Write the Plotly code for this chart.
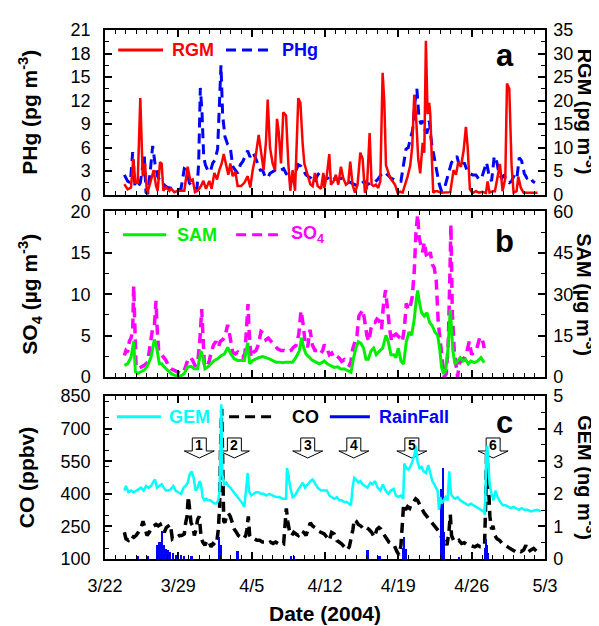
import plotly.graph_objects as go

# ---------------- data (x = days after 2004-03-22 00:00) ----------------
date_tickvals = [0, 7, 14, 21, 28, 35, 42]
date_ticktext = ["3/22", "3/29", "4/5", "4/12", "4/19", "4/26", "5/3"]

rgm_day = [1.85, 2.16, 2.48, 2.70, 2.90, 3.12, 3.37, 3.60, 3.82, 4.01, 4.23, 4.45, 4.65, 4.87, 5.03,
           5.25, 5.41, 5.57, 5.82, 6.14, 6.30, 6.62, 6.94, 7.25, 7.57, 7.89, 8.15, 8.37, 8.59, 8.84,
           9.16, 9.39, 9.64, 9.96, 10.18, 10.44, 10.69, 10.91, 11.14, 11.33, 11.55, 11.77, 11.96, 12.19, 12.44,
           12.66, 12.98, 13.30, 13.62, 13.87, 14.10, 14.41, 14.67, 14.89, 15.14, 15.37, 15.53, 15.75, 16.00, 16.23,
           16.42, 16.58, 16.80, 17.02, 17.28, 17.50, 17.69, 17.91, 18.14, 18.45, 18.65, 18.87, 19.03, 19.34, 19.60,
           19.82, 20.04, 20.30, 20.62, 20.84,
           20.93, 21.18, 21.41, 21.57, 21.82, 22.04, 22.27, 22.52, 22.74, 23.00, 23.22, 23.41, 23.63, 23.86, 24.11,
           24.37, 24.59, 24.81, 25.00, 25.26, 25.45, 25.64, 25.86, 26.08, 26.28, 26.50, 26.66, 26.82, 27.04, 27.23,
           27.45, 27.68, 27.93, 28.18, 28.41, 28.63, 28.88, 29.14, 29.33, 29.52, 29.68, 29.90, 30.09, 30.32, 30.48,
           30.63, 30.79, 30.95, 31.05, 31.17, 31.33, 31.52, 31.75, 32.07, 32.38, 32.70, 32.96, 33.27, 33.50, 33.72,
           33.97, 34.23, 34.45, 34.61, 34.83, 35.09, 35.41, 35.72, 36.04, 36.36, 36.52, 36.71, 37.00, 37.22, 37.47,
           37.70, 37.95, 38.21, 38.37, 38.59, 38.81, 39.00, 39.29, 39.45, 39.70, 39.96, 40.34, 40.66, 41.04, 41.29]
rgm_val = [2.2, 1.1, 1.5, 7.6, 2.5, 2.5, 20.5, 3.9, 6.6, 0.1, 1.8, 3.5, 5.2, 1.8, 0.8,
           6.9, 6.6, 0.8, 1.5, 0.8, 1.3, 0.5, 0.8, 0.8, 0.8, 5.9, 2.9, 3.2, 0.5, 0.8,
           1.8, 2.9, 1.2, 2.9, 1.2, 4.6, 3.2, 5.2, 6.6, 8.6, 6.6, 4.2, 6.6, 3.9, 4.9,
           1.8, 1.8, 2.5, 3.9, 1.5, 5.2, 8.6, 12.7, 9.3, 5.2, 11.4, 20.2, 10.0, 6.6, 5.2,
           16.1, 13.4, 6.6, 17.5, 16.8, 6.6, 0.8, 5.2, 0.8, 20.5, 19.5, 10.7, 6.6, 4.2, 2.2,
           1.8, 4.6, 1.8, 1.2, 4.6,
           1.4, 4.2, 8.6, 2.1, 2.8, 4.2, 2.1, 5.9, 3.5, 2.1, 2.5, 7.0, 2.1, 0.4, 2.1,
           8.9, 7.6, 0.4, 1.4, 13.1, 2.1, 1.8, 2.1, 1.4, 2.8, 25.9, 19.8, 6.2, 4.5, 3.5,
           2.8, 2.1, 0.4, 0.6, 0.4, 1.8, 3.8, 6.2, 10.3, 21.2, 17.1, 7.6, 4.5, 11.0, 8.9,
           32.7, 17.1, 19.5, 17.1, 9.3, 0.4, 0.7, 0.7, 0.4, 0.4, 0.4, 0.5, 5.2, 4.2, 6.9,
           5.9, 9.3, 14.4, 10.3, 1.1, 0.3, 0.7, 0.4, 0.6, 0.3, 2.8, 0.4, 0.7, 0.7, 3.5,
           6.5, 0.7, 3.5, 23.6, 22.5, 6.2, 0.4, 0.7, 3.8, 1.4, 0.4, 0.4, 0.4, 0.5, 0.4]

phg_day = [1.85, 2.16, 2.42, 2.64, 2.86, 3.12, 3.37, 3.60, 3.75, 3.91, 4.07, 4.30, 4.55, 4.77, 5.03,
           5.28, 5.50, 5.73, 5.98, 6.30, 6.62, 6.94, 7.25, 7.57, 7.83, 8.05, 8.27, 8.53, 8.78, 8.94,
           9.10, 9.26, 9.42, 9.58, 9.80, 10.05, 10.28, 10.50, 10.75, 10.91, 11.07, 11.23, 11.45, 11.71, 11.96,
           12.19, 12.41, 12.66, 12.92, 13.14, 13.36, 13.62, 13.84, 14.10, 14.32, 14.57, 14.83, 15.05, 15.27, 15.53,
           15.75, 16.00, 16.23, 16.48, 16.80, 17.05, 17.28, 17.50, 17.75, 18.01, 18.23, 18.45, 18.71, 18.96, 19.19,
           19.41, 19.66, 19.98, 20.30, 20.55, 20.84,
           20.93, 21.25, 21.57, 21.88, 22.20, 22.52, 22.84, 23.16, 23.48, 23.79, 24.11, 24.43, 24.75, 25.07, 25.38,
           25.70, 26.02, 26.34, 26.66, 26.98, 27.29, 27.61, 27.93, 28.25, 28.50, 28.73, 28.95, 29.14, 29.36, 29.58,
           29.77, 29.97, 30.16, 30.35, 30.54, 30.73, 30.95, 31.17, 31.43, 31.68, 31.91, 32.13, 32.38, 32.64, 32.86,
           33.08, 33.34, 33.59, 33.82, 34.04, 34.29, 34.55, 34.80, 35.09, 35.41, 35.72, 35.95, 36.20, 36.42, 36.65,
           36.90, 37.16, 37.41, 37.63, 37.89, 38.11, 38.37, 38.59, 38.81, 39.07, 39.32, 39.54, 39.77, 40.02, 40.27,
           40.56, 40.82, 41.04]
phg_val = [2.5, 1.7, 1.5, 5.4, 1.1, 0.9, 1.5, 4.0, 5.0, 0.3, 0.0, 2.7, 6.2, 4.0, 2.3,
           1.7, 1.5, 1.1, 0.9, 0.8, 0.7, 0.6, 0.7, 3.3, 3.1, 1.5, 1.1, 1.1, 0.7, 4.0,
           13.6, 10.5, 4.8, 3.8, 3.1, 2.9, 4.0, 4.4, 5.8, 12.1, 16.5, 10.1, 7.4, 6.4, 6.0,
           3.6, 3.1, 2.7, 3.8, 4.2, 4.8, 5.6, 4.8, 5.4, 4.8, 4.0, 3.1, 3.1, 2.3, 2.1,
           2.7, 2.9, 3.1, 3.3, 3.1, 3.3, 2.7, 2.3, 1.5, 2.3, 3.1, 3.8, 3.6, 3.1, 2.5,
           2.3, 2.1, 1.5, 2.5, 2.9, 2.5,
           1.9, 2.1, 1.7, 2.0, 1.9, 2.1, 1.9, 1.7, 1.5, 1.3, 1.1, 1.3, 1.7, 1.3, 1.5,
           1.5, 1.9, 2.5, 2.9, 2.5, 2.1, 1.9, 1.7, 1.7, 3.7, 5.8, 6.0, 7.0, 8.2, 11.7,
           13.5, 9.8, 9.0, 9.4, 8.2, 7.8, 9.4, 6.6, 4.5, 2.9, 1.3, 0.4, 0.7, 2.1, 2.9,
           4.1, 4.5, 4.9, 3.7, 3.5, 4.1, 3.1, 2.7, 2.5, 2.5, 1.9, 2.1, 3.3, 4.1, 2.5,
           1.7, 4.9, 4.1, 2.5, 2.1, 2.5, 1.7, 1.5, 1.7, 2.5, 2.1, 4.7, 4.3, 2.7, 2.1,
           2.3, 1.7, 1.5]

so4_day = [1.85, 2.00, 2.16, 2.32, 2.48, 2.64, 2.74, 2.83, 2.96, 3.12, 3.44, 3.75, 4.07, 4.33, 4.55,
           4.71, 4.87, 4.96, 5.12, 5.35, 5.60, 5.82, 6.05, 6.30, 6.62, 6.94, 7.25, 7.57, 7.89, 8.15,
           8.37, 8.59, 8.84, 9.07, 9.23, 9.35, 9.48, 9.74, 9.96, 10.18, 10.37, 10.59, 10.82, 11.01, 11.23,
           11.45, 11.71, 11.93, 12.19, 12.44, 12.66, 12.92, 13.14, 13.36, 13.55, 13.65, 13.74, 13.94, 14.19, 14.41,
           14.64, 14.89, 15.11, 15.37, 15.59, 15.84, 16.16, 16.48, 16.80, 17.12, 17.44, 17.75, 17.98, 18.23, 18.49,
           18.71, 18.90, 19.09, 19.34, 19.57, 19.79, 20.04, 20.30, 20.55, 20.78,
           20.93, 21.18, 21.41, 21.63, 21.88, 22.14, 22.36, 22.58, 22.84, 23.09, 23.32, 23.48, 23.63, 23.86, 24.05,
           24.24, 24.43, 24.62, 24.81, 25.00, 25.19, 25.38, 25.58, 25.77, 25.96, 26.18, 26.40, 26.59, 26.78, 26.98,
           27.17, 27.36, 27.55, 27.77, 27.99, 28.18, 28.38, 28.57, 28.76, 28.95, 29.14, 29.33, 29.52, 29.68, 29.84,
           30.00, 30.16, 30.32, 30.48, 30.67, 30.86, 31.05, 31.24, 31.43, 31.62, 31.81, 32.00, 32.19, 32.38, 32.58,
           32.77, 32.93, 33.02, 33.15, 33.34, 33.53, 33.66, 33.82, 34.04, 34.29, 34.55, 34.77, 35.00, 35.25, 35.50,
           35.76, 35.98, 36.20]
so4_val = [2.6, 3.2, 3.0, 4.3, 4.7, 5.5, 11.0, 5.5, 1.4, 1.0, 1.2, 1.4, 1.8, 4.3, 5.9,
           6.1, 9.2, 6.3, 3.2, 2.8, 2.4, 2.0, 1.4, 1.0, 0.8, 0.6, 0.4, 0.8, 2.0, 2.4,
           2.0, 1.4, 1.6, 4.7, 8.2, 5.1, 1.6, 1.2, 2.0, 3.2, 3.9, 4.3, 3.6, 4.3, 4.5,
           4.9, 6.3, 4.9, 3.0, 2.8, 3.0, 2.6, 2.4, 2.8, 6.7, 8.8, 5.9, 2.4, 3.0, 3.2,
           3.9, 5.5, 5.3, 4.5, 4.7, 4.3, 3.8, 3.4, 3.2, 3.2, 3.0, 3.2, 3.6, 3.8, 5.1,
           8.0, 6.5, 4.3, 3.6, 5.7, 3.9, 3.2, 3.2, 2.8, 3.2,
           3.9, 3.5, 2.7, 2.9, 2.3, 2.5, 2.3, 1.9, 2.1, 1.6, 1.4, 1.9, 3.3, 4.3, 5.0,
           7.4, 7.8, 8.1, 6.6, 5.0, 4.3, 5.8, 6.6, 6.6, 7.0, 6.8, 5.8, 8.9, 10.5, 7.8,
           5.8, 4.3, 5.0, 5.2, 5.0, 4.7, 4.3, 5.8, 8.9, 8.1, 8.5, 9.7, 12.8, 17.4, 19.6,
           16.7, 15.9, 15.1, 16.3, 14.7, 14.3, 15.1, 13.6, 13.2, 11.6, 6.6, 4.3, 1.6, 0.0, 0.4,
           4.3, 12.8, 18.4, 7.8, 3.1, 1.2, 0.0, 1.6, 2.1, 2.3, 3.1, 4.3, 2.7, 3.1, 3.5,
           4.7, 4.8, 3.5]

sam_day = [1.85, 2.16, 2.48, 2.74, 2.90, 3.12, 3.44, 3.75, 4.07, 4.39, 4.71, 4.93, 5.19, 5.41, 5.66,
           5.98, 6.30, 6.62, 6.94, 7.25, 7.57, 7.89, 8.21, 8.53, 8.84, 9.16, 9.35, 9.54, 9.80, 10.12,
           10.44, 10.75, 11.07, 11.39, 11.71, 12.03, 12.34, 12.66, 12.98, 13.30, 13.62, 13.81, 14.10, 14.41, 14.73,
           15.05, 15.37, 15.69, 16.00, 16.32, 16.64, 16.96, 17.28, 17.59, 17.91, 18.23, 18.55, 18.77, 18.96, 19.19,
           19.51, 19.82, 20.14, 20.46, 20.78,
           20.93, 21.25, 21.57, 21.88, 22.20, 22.52, 22.84, 23.16, 23.48, 23.73, 23.95, 24.18, 24.43, 24.68, 24.91,
           25.13, 25.38, 25.64, 25.89, 26.18, 26.50, 26.82, 27.04, 27.29, 27.55, 27.77, 27.99, 28.25, 28.50, 28.76,
           29.01, 29.27, 29.52, 29.71, 29.84, 30.03, 30.22, 30.48, 30.73, 30.98, 31.24, 31.49, 31.75, 31.94, 32.13,
           32.32, 32.51, 32.70, 32.96, 33.21, 33.40, 33.66, 33.91, 34.17, 34.42, 34.67, 34.93, 35.25, 35.57, 35.88,
           36.20]
sam_val = [4.2, 4.8, 7.1, 13.0, 1.9, 1.3, 1.9, 2.5, 4.2, 7.1, 13.6, 10.7, 4.8, 4.8, 3.6,
           2.5, 1.3, 0.7, 0.4, 0.4, 1.3, 3.6, 3.9, 3.0, 3.0, 9.5, 7.1, 3.0, 3.6, 4.8,
           6.0, 6.6, 7.7, 8.3, 10.7, 8.3, 6.6, 6.0, 6.0, 6.0, 12.4, 4.8, 6.0, 6.6, 7.1,
           7.4, 7.1, 6.6, 6.0, 5.4, 5.4, 5.2, 5.4, 5.4, 5.4, 7.1, 9.5, 14.2, 10.7, 8.3,
           7.1, 6.0, 5.4, 4.8, 5.4,
           5.8, 4.7, 4.1, 3.5, 3.7, 2.9, 2.9, 2.3, 1.7, 7.0, 10.5, 12.8, 12.2, 10.5, 6.4,
           6.4, 9.3, 10.5, 8.1, 9.3, 10.5, 15.1, 12.8, 8.1, 8.1, 7.0, 10.5, 5.8, 4.7, 12.8,
           16.3, 15.1, 20.9, 27.9, 31.4, 26.7, 23.3, 22.1, 23.3, 19.8, 18.6, 16.3, 15.1, 10.5, 3.5,
           1.2, 2.3, 8.1, 24.4, 9.3, 4.7, 5.8, 7.0, 5.8, 6.4, 4.7, 5.8, 5.2, 5.8, 7.0,
           5.2]

gem_day = [1.85, 2.00, 2.23, 2.48, 2.74, 2.96, 3.18, 3.44, 3.69, 3.91, 4.14, 4.39, 4.65, 4.77, 4.96,
           5.19, 5.41, 5.60, 5.82, 6.05, 6.30, 6.52, 6.75, 7.00, 7.25, 7.51, 7.70, 7.89, 8.08, 8.27,
           8.46, 8.65, 8.84, 9.04, 9.16, 9.32, 9.48, 9.67, 9.86, 10.05, 10.24, 10.44, 10.63, 10.82, 10.94,
           11.04, 11.10, 11.20, 11.39, 11.58, 11.77, 11.96, 12.19, 12.41, 12.66, 12.92, 13.14, 13.30, 13.46, 13.62,
           13.74, 13.94, 14.19, 14.41, 14.64, 14.89, 15.14, 15.40, 15.69, 16.00, 16.32, 16.64, 16.96, 17.28, 17.37,
           17.50, 17.69, 17.91, 18.14, 18.39, 18.65, 18.87, 19.09, 19.34, 19.60, 19.82, 20.04, 20.30, 20.62,
           20.93, 21.18, 21.41, 21.63, 21.88, 22.14, 22.36, 22.58, 22.84, 23.09, 23.32, 23.48, 23.63, 23.79, 23.98,
           24.18, 24.37, 24.59, 24.81, 25.07, 25.32, 25.54, 25.77, 26.02, 26.28, 26.53, 26.78, 27.04, 27.29, 27.55,
           27.77, 27.99, 28.25, 28.47, 28.57, 28.76, 28.95, 29.14, 29.33, 29.52, 29.68, 29.84, 30.03, 30.22, 30.41,
           30.63, 30.86, 31.05, 31.24, 31.43, 31.62, 31.75, 31.88, 32.00, 32.13, 32.32, 32.51, 32.70, 32.86, 33.02,
           33.21, 33.43, 33.66, 33.91, 34.17, 34.42, 34.67, 34.93, 35.18, 35.44, 35.69, 35.95, 36.14, 36.27, 36.39,
           36.49, 36.58, 36.71, 36.90, 37.09, 37.28, 37.47, 37.73, 37.98, 38.24, 38.49, 38.75, 39.00, 39.26, 39.51,
           39.77, 40.02, 40.34, 40.66, 40.97, 41.29, 41.60]
gem_val = [2.10, 2.24, 2.05, 2.10, 2.05, 2.10, 2.15, 2.19, 2.10, 2.24, 2.19, 2.24, 2.39, 2.44, 2.19,
           2.24, 2.29, 2.19, 2.10, 2.10, 2.15, 2.24, 2.10, 2.05, 2.00, 2.19, 2.24, 2.34, 2.59, 2.69,
           2.49, 2.10, 2.19, 2.39, 2.29, 1.90, 1.80, 1.85, 1.80, 1.80, 1.75, 1.70, 1.70, 1.80, 2.10,
           3.87, 4.75, 2.59, 2.29, 2.34, 2.24, 2.19, 2.10, 2.00, 1.90, 1.80, 1.70, 1.60, 2.10, 2.64,
           2.10, 1.95, 2.00, 2.05, 2.05, 2.00, 2.00, 1.95, 2.00, 1.95, 1.90, 1.90, 1.85, 1.85, 2.79,
           2.59, 2.19, 1.90, 1.95, 2.10, 2.24, 2.34, 2.19, 2.29, 2.39, 2.44, 2.34, 2.19, 2.10,
           2.10, 2.10, 1.95, 1.90, 1.85, 1.90, 1.80, 1.80, 1.75, 1.75, 1.70, 1.65, 2.19, 2.49, 2.44,
           2.34, 2.39, 2.29, 2.24, 2.19, 2.34, 2.29, 2.39, 2.19, 2.10, 2.29, 2.10, 2.00, 2.10, 2.15,
           1.95, 1.90, 1.95, 1.85, 2.93, 2.79, 2.74, 2.83, 2.98, 3.18, 3.47, 2.98, 2.79, 2.83, 2.69,
           2.64, 2.88, 2.59, 2.39, 2.29, 2.19, 2.10, 1.51, 1.90, 1.70, 1.80, 1.90, 1.80, 2.69, 2.00,
           1.90, 1.85, 1.90, 1.80, 1.75, 1.70, 1.65, 1.70, 1.65, 1.60, 1.56, 1.51, 1.46, 1.36, 3.18,
           3.47, 2.79, 2.29, 2.00, 1.80, 2.10, 1.90, 1.75, 1.65, 1.65, 1.60, 1.56, 1.60, 1.56, 1.51,
           1.56, 1.51, 1.51, 1.46, 1.49, 1.51, 1.46]

co_day = [1.85, 2.00, 2.23, 2.48, 2.74, 2.96, 3.18, 3.44, 3.63, 3.82, 4.01, 4.23, 4.45, 4.65, 4.87,
          5.09, 5.28, 5.50, 5.66, 5.85, 6.05, 6.24, 6.43, 6.62, 6.87, 7.10, 7.32, 7.57, 7.70, 7.83,
          7.95, 8.08, 8.21, 8.37, 8.53, 8.69, 8.84, 9.00, 9.16, 9.32, 9.54, 9.74, 9.93, 10.12, 10.31,
          10.50, 10.69, 10.82, 10.94, 11.04, 11.14, 11.23, 11.33, 11.45, 11.58, 11.77, 11.96, 12.15, 12.34, 12.54,
          12.73, 12.98, 13.24, 13.43, 13.55, 13.68, 13.81, 14.00, 14.25, 14.51, 14.76, 15.02, 15.27, 15.53, 15.78,
          16.04, 16.29, 16.54, 16.80, 17.05, 17.21, 17.31, 17.44, 17.63, 17.82, 18.01, 18.23, 18.45, 18.71, 18.96,
          19.19, 19.41, 19.60, 19.82, 20.04, 20.30, 20.62,
          20.93, 21.18, 21.41, 21.63, 21.88, 22.14, 22.36, 22.58, 22.84, 23.09, 23.32, 23.54, 23.67, 23.79, 23.98,
          24.18, 24.43, 24.68, 24.94, 25.19, 25.45, 25.70, 25.96, 26.15, 26.34, 26.59, 26.85, 27.10, 27.36, 27.61,
          27.87, 28.06, 28.25, 28.38, 28.50, 28.69, 28.88, 29.08, 29.27, 29.46, 29.65, 29.84, 30.03, 30.22, 30.48,
          30.73, 30.98, 31.24, 31.49, 31.75, 31.94, 32.07, 32.26, 32.45, 32.64, 32.83, 32.96, 33.08, 33.27, 33.53,
          33.78, 34.04, 34.29, 34.55, 34.80, 35.06, 35.31, 35.57, 35.82, 36.07, 36.23, 36.33, 36.42, 36.52, 36.62,
          36.74, 36.90, 37.03, 37.22, 37.41, 37.66, 37.92, 38.17, 38.43, 38.68, 38.94, 39.19, 39.45, 39.70, 39.96,
          40.18, 40.40, 40.66, 40.91, 41.17]
co_val = [223, 193, 186, 208, 200, 208, 223, 245, 274, 237, 208, 223, 245, 252, 259,
          252, 259, 237, 223, 245, 252, 259, 193, 200, 200, 208, 208, 215, 267, 296,
          388, 326, 267, 252, 208, 237, 282, 296, 208, 178, 163, 186, 178, 156, 171,
          163, 186, 237, 341, 636, 791, 562, 274, 267, 296, 311, 296, 267, 237, 223,
          208, 200, 193, 208, 237, 296, 208, 193, 193, 186, 186, 178, 178, 171, 178,
          171, 178, 171, 178, 171, 296, 333, 274, 223, 208, 223, 215, 208, 230, 223,
          208, 237, 267, 252, 245, 230, 223,
          215, 200, 185, 222, 215, 185, 178, 170, 156, 141, 156, 205, 237, 282, 274,
          259, 252, 237, 245, 237, 223, 200, 237, 245, 237, 215, 193, 178, 171, 163,
          134, 119, 163, 296, 348, 326, 341, 333, 355, 363, 377, 370, 348, 333, 311,
          296, 282, 267, 252, 237, 223, 208, 178, 193, 163, 223, 304, 208, 186, 178,
          186, 171, 175, 166, 163, 161, 156, 163, 156, 156, 163, 341, 577, 532, 414,
          296, 237, 252, 208, 193, 186, 171, 163, 156, 149, 141, 134, 141, 134, 141,
          163, 134, 141, 149, 137]

rain_day = [3.12, 4.07, 4.96, 5.19, 5.41, 5.60, 5.76, 5.98, 6.20, 6.46, 6.78, 7.25, 7.57, 8.27,
            10.91, 11.01, 12.66, 17.76, 18.01, 25.07, 26.20, 28.45, 28.57, 28.70,
            32.07, 32.13, 32.26, 32.38, 33.82, 36.30, 36.36, 36.49, 36.58]
rain_val = [0.08, 0.08, 0.42, 0.52, 0.85, 0.42, 0.32, 0.27, 0.22, 0.18, 0.13, 0.13, 0.08, 0.08,
            0.67, 0.42, 0.23, 0.08, 0.08, 0.28, 0.10, 0.35, 0.67, 0.30,
            0.75, 2.15, 2.78, 0.82, 0.03, 0.35, 0.62, 0.42, 0.18]

event_day = [9.0, 12.35, 19.35, 23.75, 29.29, 37.05]
event_label = ["1", "2", "3", "4", "5", "6"]
event_co_level = 565

# ---------------- styles ----------------
FONT = "Liberation Sans, Arial, sans-serif"
RED, BLUE, GREEN, MAGENTA, CYAN, BLACK = "#ff0000", "#0000ff", "#00ee00", "#ff00ff", "#00ffff", "#000000"
DASH = "10px,6px"

fig = go.Figure()
fig.add_trace(go.Scatter(x=phg_day, y=phg_val, mode="lines", name="PHg", xaxis="x", yaxis="y",
                         line=dict(color=BLUE, width=3, dash=DASH)))
fig.add_trace(go.Scatter(x=rgm_day, y=rgm_val, mode="lines", name="RGM", xaxis="x", yaxis="y2",
                         line=dict(color=RED, width=2.5)))
fig.add_trace(go.Scatter(x=so4_day, y=so4_val, mode="lines", name="SO4", xaxis="x2", yaxis="y3",
                         line=dict(color=MAGENTA, width=3.5, dash=DASH)))
fig.add_trace(go.Scatter(x=sam_day, y=sam_val, mode="lines", name="SAM", xaxis="x2", yaxis="y4",
                         line=dict(color=GREEN, width=3)))
fig.add_trace(go.Scatter(x=co_day, y=co_val, mode="lines", name="CO", xaxis="x3", yaxis="y5",
                         line=dict(color=BLACK, width=3.5, dash=DASH)))
fig.add_trace(go.Scatter(x=gem_day, y=gem_val, mode="lines", name="GEM", xaxis="x3", yaxis="y6",
                         line=dict(color=CYAN, width=2.5)))
fig.add_trace(go.Bar(x=rain_day, y=rain_val, name="RainFall", xaxis="x3", yaxis="y6",
                     width=0.22, marker=dict(color=BLUE, line=dict(width=0))))

tickfont = dict(family=FONT, size=18, color="black")
common = dict(showline=True, linewidth=1.5, linecolor="black", ticks="inside", tickwidth=1.5,
              tickcolor="black", showgrid=False, zeroline=False, tickfont=tickfont)

def xax(anchor, labels):
    d = dict(common, anchor=anchor, domain=[0, 1], range=[0, 42], tickmode="array",
             tickvals=date_tickvals, ticktext=date_ticktext, ticklen=7, mirror="ticks",
             showticklabels=labels, ticklabelstandoff=10,
             minor=dict(dtick=1, tick0=0, ticks="inside", ticklen=4, tickwidth=1.2, tickcolor="black"))
    return d

def yax_left(domain, rng, dtick, title, standoff):
    return dict(common, anchor=None, domain=domain, range=rng, dtick=dtick, tick0=rng[0], ticklen=7,
                ticklabelstandoff=9,
                minor=dict(dtick=dtick / 2, ticks="inside", ticklen=4, tickwidth=1.2, tickcolor="black"),
                title=dict(text=title, font=dict(family=FONT, size=21, color="black"),
                           standoff=standoff))

def yax_right(over, rng, dtick):
    return dict(common, overlaying=over, side="right", range=rng, dtick=dtick, tick0=rng[0], ticklen=7,
                ticklabelstandoff=3,
                minor=dict(dtick=dtick / 2, ticks="inside", ticklen=4, tickwidth=1.2, tickcolor="black"))

ya = yax_left([0.689, 1.0], [0, 21], 3, "<b>PHg (pg m<sup>-3</sup>)</b>", 27); ya["anchor"] = "x"
yb = yax_left([0.344, 0.657], [0, 20], 5, "<b>SO<sub>4</sub> (µg m<sup>-3</sup>)</b>", 27); yb["anchor"] = "x2"
yc = yax_left([0.0, 0.308], [100, 850], 150, "<b>CO (ppbv)</b>", 20); yc["anchor"] = "x3"
ya2 = yax_right("y", [0, 35], 5); ya2["anchor"] = "x"
yb2 = yax_right("y3", [0, 60], 15); yb2["anchor"] = "x2"
yc2 = yax_right("y5", [0, 5], 1); yc2["anchor"] = "x3"

x3 = xax("y5", True)
x3["title"] = dict(text="<b>Date (2004)</b>", font=dict(family=FONT, size=21, color="black"), standoff=11)

fig.update_layout(
    width=599, height=626, margin=dict(l=97, r=62, t=21, b=55),
    paper_bgcolor="white", plot_bgcolor="white", showlegend=False, bargap=0,
    font=dict(family=FONT, color="black"),
    xaxis=xax("y", False), xaxis2=xax("y3", False), xaxis3=x3,
    yaxis=ya, yaxis2=ya2, yaxis3=yb, yaxis4=yb2, yaxis5=yc, yaxis6=yc2,
)

ann = []
shapes = []
# right-side titles (read top to bottom)
for ytxt, yc_ in [("<b>RGM (pg m<sup>-3</sup>)</b>", 0.845), ("<b>SAM (µg m<sup>-3</sup>)</b>", 0.50),
                  ("<b>GEM (ng m<sup>-3</sup>)</b>", 0.154)]:
    ann.append(dict(text=ytxt, xref="paper", yref="paper", x=1.094, y=yc_, textangle=90,
                    showarrow=False, font=dict(family=FONT, size=20, color="black"),
                    xanchor="center", yanchor="middle"))
# panel letters
for letter, yl in [("a", 0.951), ("b", 0.600), ("c", 0.258)]:
    ann.append(dict(text="<b>%s</b>" % letter, xref="paper", yref="paper", x=0.908, y=yl,
                    showarrow=False, font=dict(family=FONT, size=31, color="black"),
                    xanchor="center", yanchor="middle"))

# in-panel legends: (y, [(x0, x1, text_x, color, dash, label)])
legend_rows = [
    (0.962, [(0.030, 0.132, 0.147, RED, "solid", "RGM"), (0.275, 0.382, 0.398, BLUE, DASH, "PHg")]),
    (0.613, [(0.041, 0.139, 0.160, GREEN, "solid", "SAM"), (0.298, 0.393, 0.418, MAGENTA, DASH, "SO<sub>4</sub>")]),
    (0.269, [(0.027, 0.127, 0.142, CYAN, "solid", "GEM"), (0.282, 0.389, 0.420, BLACK, DASH, "CO"),
             (0.511, 0.602, 0.618, BLUE, "solid", "RainFall")]),
]
for yrow, items in legend_rows:
    for x0, x1, xt, col, dash, lab in items:
        shapes.append(dict(type="line", xref="paper", yref="paper", x0=x0, x1=x1, y0=yrow, y1=yrow,
                           line=dict(color=col, width=3, dash=dash)))
        ann.append(dict(text="<b>%s</b>" % lab, xref="paper", yref="paper", x=xt, y=yrow,
                        showarrow=False, xanchor="left", yanchor="middle",
                        font=dict(family=FONT, size=18, color=col)))

# event arrows
for d, lab in zip(event_day, event_label):
    shapes.append(dict(type="path", xref="x3", yref="y5", xsizemode="pixel", ysizemode="pixel",
                       xanchor=d, yanchor=event_co_level, layer="below",
                       path="M-7,20 L7,20 L7,7 L15,7 L0,0 L-15,7 L-7,7 Z",
                       fillcolor="white", line=dict(color="black", width=1)))
    ann.append(dict(text="<b>%s</b>" % lab, xref="x3", yref="y5", x=d, y=event_co_level, yshift=13,
                    showarrow=False, xanchor="center", yanchor="middle",
                    font=dict(family=FONT, size=14, color="black")))

fig.update_layout(annotations=ann, shapes=shapes)
fig.write_html("out.html")
